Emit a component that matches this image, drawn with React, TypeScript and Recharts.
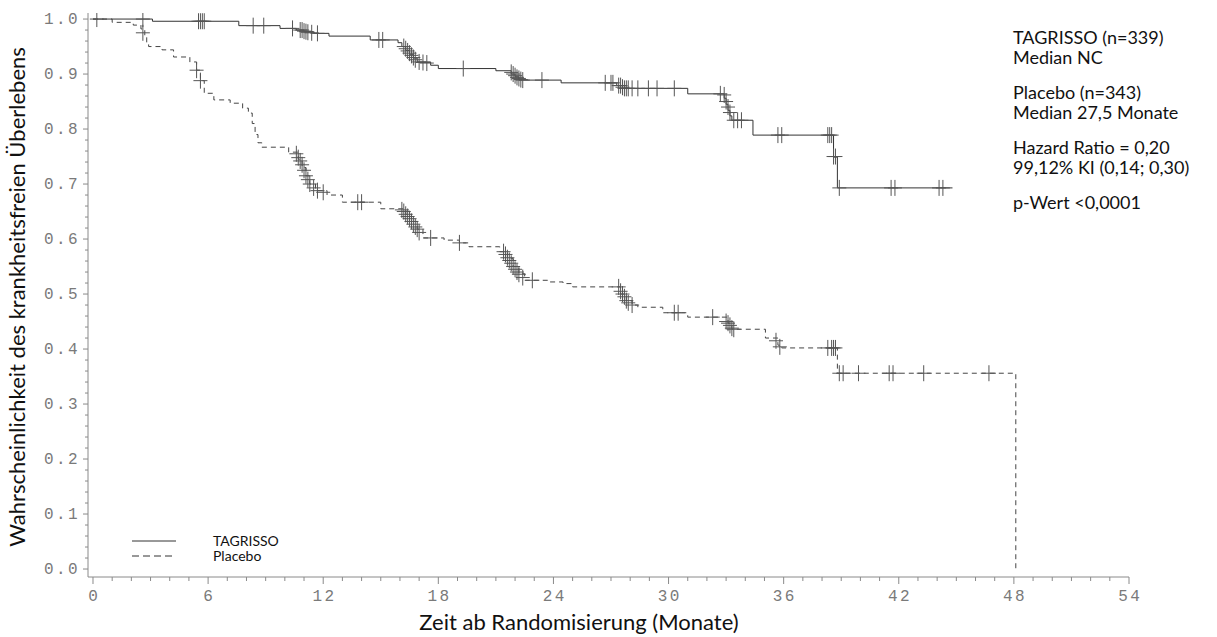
import React from 'react';
import { ComposedChart, Line, XAxis, YAxis, Legend } from 'recharts';

// ---- Data ----
// Kaplan-Meier step points: time (months), survival probability
const tagrissoSteps = [
  { t: 0, s: 1.0 }, { t: 3.1, s: 0.996 }, { t: 7.6, s: 0.988 }, { t: 9.75, s: 0.983 },
  { t: 10.6, s: 0.98 }, { t: 11.0, s: 0.977 }, { t: 11.5, s: 0.974 }, { t: 12.3, s: 0.969 },
  { t: 14.45, s: 0.962 }, { t: 15.9, s: 0.957 }, { t: 16.1, s: 0.95 }, { t: 16.3, s: 0.943 },
  { t: 16.5, s: 0.936 }, { t: 16.7, s: 0.929 }, { t: 16.9, s: 0.922 }, { t: 17.6, s: 0.916 },
  { t: 18.0, s: 0.91 }, { t: 21.0, s: 0.906 }, { t: 21.8, s: 0.9 }, { t: 22.0, s: 0.895 },
  { t: 22.2, s: 0.889 }, { t: 24.4, s: 0.884 }, { t: 27.3, s: 0.879 }, { t: 27.6, s: 0.874 },
  { t: 31.0, s: 0.864 }, { t: 32.9, s: 0.856 }, { t: 33.0, s: 0.845 }, { t: 33.1, s: 0.834 },
  { t: 33.2, s: 0.824 }, { t: 33.3, s: 0.816 }, { t: 34.4, s: 0.789 }, { t: 38.6, s: 0.749 },
  { t: 38.8, s: 0.693 }, { t: 44.8, s: 0.693 },
];

const tagrissoCensored = [
  { t: 0.2, s: 1.0 }, { t: 2.6, s: 1.0 },
  { t: 5.5, s: 0.996 }, { t: 5.6, s: 0.996 }, { t: 5.7, s: 0.996 }, { t: 5.8, s: 0.996 },
  { t: 8.35, s: 0.988 }, { t: 8.9, s: 0.988 },
  { t: 10.4, s: 0.983 }, { t: 10.8, s: 0.98 }, { t: 10.9, s: 0.98 }, { t: 11.0, s: 0.978 },
  { t: 11.1, s: 0.977 }, { t: 11.2, s: 0.976 }, { t: 11.4, s: 0.975 }, { t: 11.7, s: 0.974 },
  { t: 14.9, s: 0.962 }, { t: 15.1, s: 0.962 },
  { t: 16.2, s: 0.95 }, { t: 16.3, s: 0.946 }, { t: 16.4, s: 0.942 }, { t: 16.5, s: 0.938 },
  { t: 16.6, s: 0.934 }, { t: 16.7, s: 0.93 }, { t: 16.8, s: 0.926 }, { t: 17.0, s: 0.922 },
  { t: 17.2, s: 0.921 }, { t: 17.4, s: 0.92 },
  { t: 19.3, s: 0.91 },
  { t: 21.8, s: 0.903 }, { t: 21.9, s: 0.9 }, { t: 22.0, s: 0.897 }, { t: 22.1, s: 0.894 },
  { t: 22.2, s: 0.892 }, { t: 22.3, s: 0.89 }, { t: 22.4, s: 0.889 },
  { t: 23.4, s: 0.889 },
  { t: 26.7, s: 0.884 }, { t: 27.0, s: 0.884 }, { t: 27.1, s: 0.884 }, { t: 27.4, s: 0.879 },
  { t: 27.5, s: 0.879 }, { t: 27.6, s: 0.876 }, { t: 27.7, s: 0.874 }, { t: 27.8, s: 0.874 },
  { t: 27.9, s: 0.874 }, { t: 28.1, s: 0.874 }, { t: 28.4, s: 0.874 }, { t: 28.95, s: 0.874 },
  { t: 29.4, s: 0.874 }, { t: 30.3, s: 0.874 },
  { t: 32.7, s: 0.864 }, { t: 32.9, s: 0.862 }, { t: 33.0, s: 0.85 }, { t: 33.1, s: 0.84 },
  { t: 33.2, s: 0.83 }, { t: 33.4, s: 0.816 }, { t: 33.6, s: 0.816 }, { t: 33.8, s: 0.816 },
  { t: 35.7, s: 0.789 }, { t: 35.9, s: 0.789 },
  { t: 38.3, s: 0.789 }, { t: 38.4, s: 0.789 }, { t: 38.5, s: 0.789 },
  { t: 38.6, s: 0.75 }, { t: 38.7, s: 0.75 },
  { t: 38.9, s: 0.693 }, { t: 41.6, s: 0.693 }, { t: 41.8, s: 0.693 },
  { t: 44.1, s: 0.693 }, { t: 44.3, s: 0.693 },
];

const placeboSteps = [
  { t: 0, s: 1.0 }, { t: 1.0, s: 0.994 }, { t: 2.1, s: 0.989 }, { t: 2.5, s: 0.982 },
  { t: 2.7, s: 0.968 }, { t: 2.8, s: 0.957 }, { t: 2.9, s: 0.95 }, { t: 3.6, s: 0.944 },
  { t: 4.2, s: 0.931 }, { t: 5.05, s: 0.922 }, { t: 5.4, s: 0.907 }, { t: 5.6, s: 0.888 },
  { t: 5.8, s: 0.865 }, { t: 6.3, s: 0.853 }, { t: 7.15, s: 0.847 }, { t: 7.8, s: 0.838 },
  { t: 8.1, s: 0.829 }, { t: 8.3, s: 0.81 }, { t: 8.45, s: 0.79 }, { t: 8.6, s: 0.775 },
  { t: 8.8, s: 0.767 }, { t: 10.2, s: 0.758 }, { t: 10.7, s: 0.745 }, { t: 10.9, s: 0.73 },
  { t: 11.1, s: 0.715 }, { t: 11.3, s: 0.7 }, { t: 11.6, s: 0.688 }, { t: 12.2, s: 0.68 },
  { t: 13.0, s: 0.667 }, { t: 15.0, s: 0.655 }, { t: 16.3, s: 0.645 }, { t: 16.6, s: 0.632 },
  { t: 16.9, s: 0.618 }, { t: 17.2, s: 0.602 }, { t: 18.3, s: 0.598 }, { t: 19.1, s: 0.593 },
  { t: 19.6, s: 0.586 }, { t: 21.2, s: 0.577 }, { t: 21.6, s: 0.565 }, { t: 21.9, s: 0.55 },
  { t: 22.2, s: 0.537 }, { t: 22.5, s: 0.525 }, { t: 23.7, s: 0.522 }, { t: 24.5, s: 0.519 },
  { t: 25.0, s: 0.513 }, { t: 27.5, s: 0.5 }, { t: 27.8, s: 0.488 }, { t: 28.1, s: 0.48 },
  { t: 28.4, s: 0.476 }, { t: 29.7, s: 0.466 }, { t: 31.0, s: 0.458 }, { t: 33.1, s: 0.447 },
  { t: 33.3, s: 0.436 }, { t: 35.05, s: 0.42 }, { t: 35.7, s: 0.407 }, { t: 35.9, s: 0.402 },
  { t: 38.8, s: 0.356 }, { t: 48.1, s: 0.0 },
];

const placeboCensored = [
  { t: 2.6, s: 0.975 }, { t: 5.4, s: 0.907 }, { t: 5.6, s: 0.888 },
  { t: 10.6, s: 0.755 }, { t: 10.7, s: 0.748 }, { t: 10.8, s: 0.742 }, { t: 10.9, s: 0.735 },
  { t: 11.0, s: 0.725 }, { t: 11.1, s: 0.715 }, { t: 11.2, s: 0.708 }, { t: 11.3, s: 0.7 },
  { t: 11.5, s: 0.693 }, { t: 11.7, s: 0.688 }, { t: 12.0, s: 0.685 },
  { t: 13.8, s: 0.667 }, { t: 14.0, s: 0.667 },
  { t: 16.1, s: 0.653 }, { t: 16.2, s: 0.65 }, { t: 16.3, s: 0.645 }, { t: 16.4, s: 0.641 },
  { t: 16.5, s: 0.637 }, { t: 16.6, s: 0.632 }, { t: 16.7, s: 0.627 }, { t: 16.8, s: 0.622 },
  { t: 16.9, s: 0.618 }, { t: 17.0, s: 0.612 }, { t: 17.6, s: 0.602 },
  { t: 19.1, s: 0.593 },
  { t: 21.4, s: 0.577 }, { t: 21.5, s: 0.572 }, { t: 21.6, s: 0.566 }, { t: 21.7, s: 0.561 },
  { t: 21.8, s: 0.556 }, { t: 21.9, s: 0.55 }, { t: 22.0, s: 0.545 }, { t: 22.1, s: 0.54 },
  { t: 22.2, s: 0.536 }, { t: 22.4, s: 0.53 }, { t: 22.9, s: 0.525 },
  { t: 27.4, s: 0.513 }, { t: 27.5, s: 0.505 }, { t: 27.6, s: 0.5 }, { t: 27.7, s: 0.495 },
  { t: 27.8, s: 0.488 }, { t: 27.9, s: 0.484 }, { t: 28.1, s: 0.48 },
  { t: 30.3, s: 0.466 }, { t: 30.5, s: 0.466 }, { t: 32.3, s: 0.458 },
  { t: 33.0, s: 0.45 }, { t: 33.1, s: 0.447 }, { t: 33.2, s: 0.443 }, { t: 33.3, s: 0.438 },
  { t: 33.4, s: 0.436 },
  { t: 35.6, s: 0.415 }, { t: 35.8, s: 0.404 },
  { t: 38.3, s: 0.402 }, { t: 38.5, s: 0.402 }, { t: 38.6, s: 0.402 }, { t: 38.7, s: 0.402 },
  { t: 38.9, s: 0.356 }, { t: 39.1, s: 0.356 }, { t: 39.9, s: 0.356 }, { t: 41.5, s: 0.356 },
  { t: 41.7, s: 0.356 }, { t: 43.3, s: 0.356 }, { t: 46.7, s: 0.356 },
];

const xMajorTicks = [0, 6, 12, 18, 24, 30, 36, 42, 48, 54];
const xAllTicks = Array.from({ length: 55 }, (_, i) => i);
const yMajorTicks = ['0.0', '0.1', '0.2', '0.3', '0.4', '0.5', '0.6', '0.7', '0.8', '0.9', '1.0'];
const yAllTicks = Array.from({ length: 51 }, (_, i) => Math.round(i * 2) / 100);

const seriesNames = ['TAGRISSO', 'Placebo'];
const annotationLines = [
  { text: 'TAGRISSO (n=339)', y: 37 },
  { text: 'Median NC', y: 57 },
  { text: 'Placebo (n=343)', y: 92 },
  { text: 'Median 27,5 Monate', y: 112 },
  { text: 'Hazard Ratio = 0,20', y: 147 },
  { text: '99,12% KI (0,14; 0,30)', y: 167 },
  { text: 'p-Wert <0,0001', y: 202 },
];

const xTitle = 'Zeit ab Randomisierung (Monate)';
const yTitle = 'Wahrscheinlichkeit des krankheitsfreien Überlebens';

// ---- Styling ----
const W = 1217;
const H = 637;
const AXIS_COLOR = '#8a8a8a';
const TICK_TEXT = '#7a7a7a';
const MONO = '"Liberation Mono", "DejaVu Sans Mono", monospace';
const SANS = 'Lato, "Open Sans", "Noto Sans", sans-serif';

const XTick = (props: any) => {
  const { x, y, payload } = props;
  const v = payload.value as number;
  const major = xMajorTicks.includes(v);
  return (
    <g>
      <line x1={x} y1={y} x2={x} y2={y + (major ? 7 : 4)} stroke={AXIS_COLOR} strokeWidth={1} />
      {major && (
        <text x={x + 1.2} y={y + 24} textAnchor="middle" fontFamily={MONO} fontSize={16} fill={TICK_TEXT} letterSpacing={2.4}>
          {v}
        </text>
      )}
    </g>
  );
};

const YTick = (props: any) => {
  const { x, y, payload } = props;
  const v = payload.value as number;
  const label = v.toFixed(1);
  const major = Math.round(v * 100) % 10 === 0 && yMajorTicks.includes(label);
  return (
    <g>
      <line x1={x} y1={y} x2={x - (major ? 5 : 3)} y2={y} stroke={AXIS_COLOR} strokeWidth={1} />
      {major && (
        <text x={x - 8} y={y + 5} textAnchor="end" fontFamily={MONO} fontSize={16} fill={TICK_TEXT} letterSpacing={2.4}>
          {label}
        </text>
      )}
    </g>
  );
};

const Censor = (props: any) => {
  const { cx, cy, index } = props;
  if (cx == null || cy == null) return <g key={index} />;
  return (
    <g key={index}>
      <line x1={cx - 7} y1={cy} x2={cx + 7} y2={cy} stroke="#555" strokeWidth={1} />
      <line x1={cx} y1={cy - 8} x2={cx} y2={cy + 8} stroke="#555" strokeWidth={1} />
    </g>
  );
};

const LegendContent = () => (
  <svg width={170} height={34}>
    <line x1={1} y1={8} x2={45} y2={8} stroke="#333" strokeWidth={1} />
    <text x={82} y={13} fontFamily={SANS} fontSize={14} fill="#111">{seriesNames[0]}</text>
    <line x1={1} y1={23} x2={45} y2={23} stroke="#333" strokeWidth={1} strokeDasharray="7 4" />
    <text x={82} y={28} fontFamily={SANS} fontSize={14} fill="#111">{seriesNames[1]}</text>
  </svg>
);

export default function App() {
  return (
    <div style={{ position: 'absolute', left: 0, top: 0, width: W, height: H, background: '#fff' }}>
      <ComposedChart width={W} height={H} margin={{ top: 13, right: 88, bottom: 0, left: 0 }}>
        <XAxis
          dataKey="t"
          type="number"
          domain={[-0.26, 54]}
          allowDataOverflow
          ticks={xAllTicks}
          interval={0}
          tick={<XTick />}
          tickLine={false}
          tickSize={0}
          tickMargin={0}
          height={60}
          stroke={AXIS_COLOR}
          label={() => (
            <text x={579} y={630} textAnchor="middle" fontFamily={SANS} fontSize={22} fill="#111">
              {xTitle}
            </text>
          )}
        />
        <YAxis
          type="number"
          domain={[-0.0145, 1.011]}
          allowDataOverflow
          ticks={yAllTicks}
          interval={0}
          tick={<YTick />}
          tickLine={false}
          tickSize={0}
          tickMargin={0}
          width={88}
          stroke={AXIS_COLOR}
          label={() => (
            <text x={25} y={297} transform="rotate(-90 25 297)" textAnchor="middle" fontFamily={SANS} fontSize={22} fill="#111">
              {yTitle}
            </text>
          )}
        />
        <Legend
          verticalAlign="middle"
          align="center"
          layout="horizontal"
          content={<LegendContent />}
          wrapperStyle={{ left: 131, top: 533, width: 170, height: 34 }}
        />
        <Line
          name={seriesNames[0]}
          data={tagrissoSteps}
          dataKey="s"
          type="stepAfter"
          stroke="#333"
          strokeWidth={1}
          dot={false}
          activeDot={false}
          isAnimationActive={false}
        />
        <Line
          name={seriesNames[1]}
          data={placeboSteps}
          dataKey="s"
          type="stepAfter"
          stroke="#444"
          strokeWidth={1}
          strokeDasharray="5 4"
          dot={false}
          activeDot={false}
          isAnimationActive={false}
        />
        <Line
          name="TAGRISSO censored"
          data={tagrissoCensored}
          dataKey="s"
          stroke="none"
          legendType="none"
          dot={(p: any) => <Censor key={`tc${p.index}`} {...p} />}
          activeDot={false}
          isAnimationActive={false}
        />
        <Line
          name="Placebo censored"
          data={placeboCensored}
          dataKey="s"
          stroke="none"
          legendType="none"
          dot={(p: any) => <Censor key={`pc${p.index}`} {...p} />}
          activeDot={false}
          isAnimationActive={false}
        />
      </ComposedChart>
      {annotationLines.map((a) => (
        <div
          key={a.text}
          style={{
            position: 'absolute',
            left: 1013,
            top: a.y - 12,
            height: 24,
            lineHeight: '24px',
            fontFamily: SANS,
            fontSize: 18,
            color: '#111',
            whiteSpace: 'nowrap',
          }}
        >
          {a.text}
        </div>
      ))}
    </div>
  );
}
